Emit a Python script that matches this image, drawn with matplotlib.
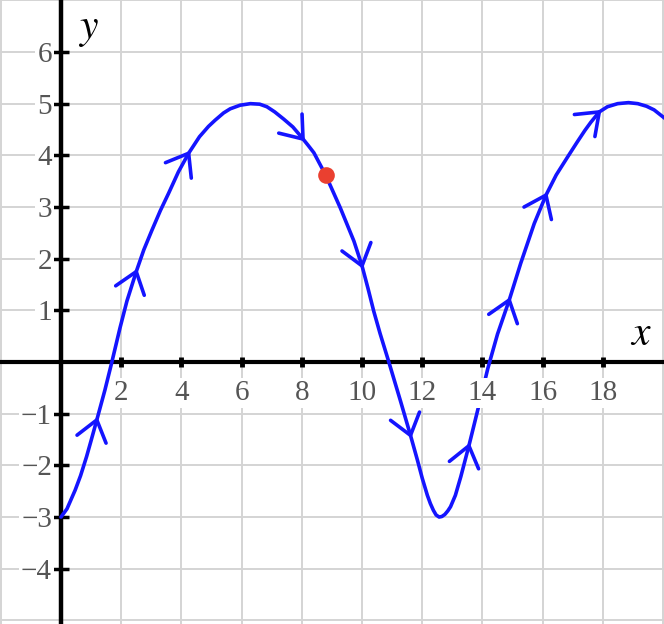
import numpy as np
import matplotlib.pyplot as plt

# curve points
curve_x = [0.0, 0.2, 0.47, 0.65, 0.85, 1.0, 1.19, 1.46, 1.69, 1.96, 2.19, 2.50, 2.75,
           3.02, 3.3, 3.57, 3.9, 4.24, 4.60, 4.9, 5.12, 5.4, 5.62, 5.95, 6.29, 6.60,
           6.84, 7.1, 7.40, 7.7, 7.95, 8.2, 8.40, 8.79, 9.28, 9.73, 10.0, 10.2, 10.39,
           10.6, 10.89, 11.28, 11.61, 11.84, 12.0, 12.17, 12.27, 12.37, 12.46, 12.56,
           12.65, 12.75, 12.85, 12.94, 13.1, 13.28, 13.55, 13.83, 14.18, 14.50, 14.89,
           15.27, 15.72, 16.11, 16.45, 16.83, 17.15, 17.40, 17.6, 17.88, 18.15, 18.49,
           18.85, 19.16, 19.45, 19.70, 20.07]
curve_y = [-3.0, -2.84, -2.48, -2.20, -1.83, -1.52, -1.12, -0.54, 0.0, 0.66, 1.18, 1.75,
           2.17, 2.55, 2.93, 3.26, 3.68, 4.04, 4.36, 4.56, 4.68, 4.82, 4.90, 4.97, 5.0,
           4.99, 4.94, 4.84, 4.70, 4.55, 4.38, 4.20, 4.05, 3.62, 2.98, 2.34, 1.86, 1.42,
           0.98, 0.55, 0.0, -0.76, -1.42, -1.90, -2.25, -2.58, -2.74, -2.87, -2.96,
           -3.0, -2.99, -2.95, -2.88, -2.80, -2.58, -2.22, -1.62, -0.96, -0.12, 0.54,
           1.20, 1.91, 2.68, 3.23, 3.62, 3.97, 4.26, 4.48, 4.64, 4.84, 4.94, 5.0,
           5.02, 5.0, 4.95, 4.88, 4.71]

# where the direction arrows sit (x of the tip)
arrow_x = [1.19, 2.50, 4.24, 8.04, 10.0, 11.61, 13.55, 14.89, 16.11, 17.88]

# marked point
dot_x, dot_y = 8.79, 3.62

x_ticks = [2, 4, 6, 8, 10, 12, 14, 16, 18]
y_ticks = [-4, -3, -2, -1, 1, 2, 3, 4, 5, 6]

BLUE = '#1414ff'
W, H = 664, 624
xmin, xmax = -2.026, 20.03
ymin, ymax = -5.07, 7.006

fig = plt.figure(figsize=(W / 100, H / 100), dpi=100)
ax = fig.add_axes([0, 0, 1, 1])
ax.set_xlim(xmin, xmax)
ax.set_ylim(ymin, ymax)

# grid
for gx in range(-2, 21, 2):
    ax.axvline(gx, color='#d4d4d4', lw=1.4, zorder=0)
for gy in range(-5, 8):
    ax.axhline(gy, color='#d4d4d4', lw=1.4, zorder=0)

# axes through the origin
for side in ['top', 'right']:
    ax.spines[side].set_visible(False)
ax.spines['left'].set_position(('data', 0))
ax.spines['bottom'].set_position(('data', 0))
ax.spines['left'].set_linewidth(3.2)
ax.spines['bottom'].set_linewidth(3.0)
ax.spines['left'].set_zorder(2)
ax.spines['bottom'].set_zorder(2)
ax.set_xticks(x_ticks)
ax.set_yticks(y_ticks)
ax.set_xticklabels([])
ax.set_yticklabels([])
ax.tick_params(axis='x', direction='inout', length=7, width=3.5, color='black')
ax.tick_params(axis='y', direction='inout', length=11, width=2.5, color='black')

# curve
ax.plot(curve_x, curve_y, color=BLUE, lw=2.6, zorder=3,
        solid_joinstyle='round', solid_capstyle='round')

# chevron arrows along the curve
sx = W / (xmax - xmin)
sy = H / (ymax - ymin)
L = 25
ang = np.radians(37)
for tx in arrow_x:
    ty = np.interp(tx, curve_x, curve_y)
    dxp = 0.3 * sx
    dyp = (np.interp(tx + 0.15, curve_x, curve_y) - np.interp(tx - 0.15, curve_x, curve_y)) * sy
    n = np.hypot(dxp, dyp)
    bx, by = -dxp / n, -dyp / n
    pts_x, pts_y = [], []
    for a in (ang, -ang):
        wx = bx * np.cos(a) - by * np.sin(a)
        wy = bx * np.sin(a) + by * np.cos(a)
        pts_x.append(tx + wx * L / sx)
        pts_y.append(ty + wy * L / sy)
    ax.plot([pts_x[0], tx, pts_x[1]], [pts_y[0], ty, pts_y[1]], color=BLUE, lw=2.6,
            zorder=3, solid_joinstyle='round', solid_capstyle='round')

ax.plot([dot_x], [dot_y], 'o', color='#ea4030', ms=12, mec='none', zorder=4)

# tick labels
box = dict(facecolor='white', edgecolor='none', boxstyle='square,pad=0.08')
for t in x_ticks:
    ax.text(t, -0.6, str(t), ha='center', va='center', fontsize=21,
            family='Liberation Serif', color='#555555', bbox=box, zorder=5)
for t in y_ticks:
    lab = str(t).replace('-', '\u2212')
    ax.text(-0.3, t - 0.06, lab, ha='right', va='center', fontsize=21,
            family='Liberation Serif', color='#555555', bbox=box, zorder=5)

plt.rcParams['mathtext.fontset'] = 'stix'
ax.text(0.9, 6.46, '$y$', ha='center', va='center', fontsize=30, color='black', zorder=5)
ax.text(19.26, 0.56, '$x$', ha='center', va='center', fontsize=30, color='black',
        bbox=dict(facecolor='white', edgecolor='none', pad=1), zorder=5)

fig.savefig('out.png', dpi=100)
